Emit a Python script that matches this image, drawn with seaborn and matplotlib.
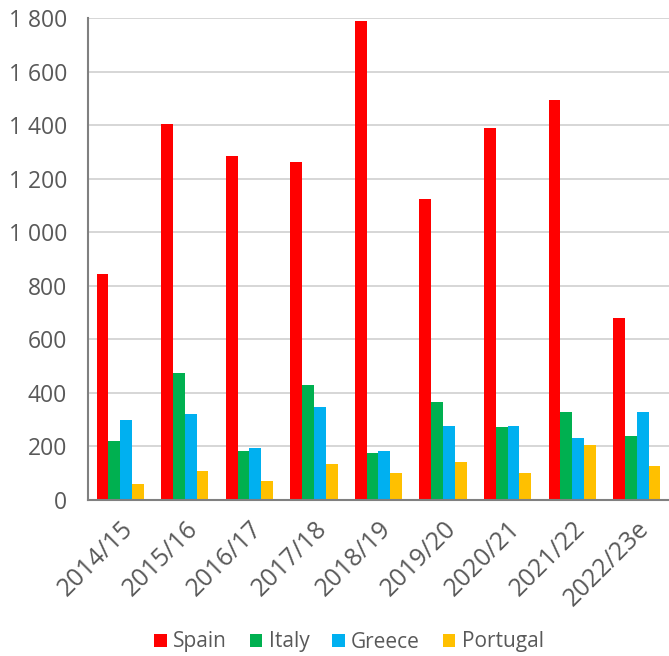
import numpy as np
import pandas as pd
import matplotlib
matplotlib.use("Agg")
import matplotlib.pyplot as plt
import matplotlib.transforms as mtransforms
import seaborn as sns
from matplotlib.ticker import FuncFormatter, FixedLocator

seasons = ["2014/15", "2015/16", "2016/17", "2017/18", "2018/19",
           "2019/20", "2020/21", "2021/22", "2022/23e"]
countries = ["Spain", "Italy", "Greece", "Portugal"]

spain = [844, 1404, 1285, 1262, 1789, 1124, 1389, 1494, 680]
italy = [220, 474, 183, 429, 175, 366, 273, 329, 239]
greece = [299, 321, 194, 347, 183, 276, 276, 231, 330]
portugal = [60, 108, 71, 134, 100, 141, 100, 205, 127]

colors = ["#FF0000", "#00B050", "#00B0F0", "#FFC000"]
text_grey = "#595959"

# long format for seaborn
df = pd.DataFrame({
    "season": seasons * 4,
    "country": np.repeat(countries, len(seasons)),
    "value": spain + italy + greece + portugal,
})

sns.set_style("white")
plt.rcParams["font.family"] = ["Open Sans", "DejaVu Sans"]
tick_fs = 16.5
xlab_fs = 18
leg_fs = 15

fig = plt.figure(figsize=(6.69, 6.56), dpi=100)
ax = fig.add_axes([88 / 669, 1 - 500 / 656, 581 / 669, 482 / 656])

sns.barplot(
    data=df, x="season", y="value", hue="country",
    order=seasons, hue_order=countries, palette=colors, saturation=1,
    width=0.73, gap=0, errorbar=None, linewidth=0, ax=ax,
)

ax.set_xlim(-0.5, len(seasons) - 0.5)
ax.set_ylim(0, 1800)
ax.set_yticks(np.arange(0, 1801, 200))
ax.yaxis.set_major_formatter(FuncFormatter(lambda v, p: f"{int(v):,}".replace(",", " ")))
ax.yaxis.grid(True, color="#D0D0D0", linewidth=1.2)
ax.set_axisbelow(True)

# category boundaries get the tick marks
ax.xaxis.set_minor_locator(FixedLocator(np.arange(-0.5, len(seasons), 1.0)))
ax.tick_params(axis="x", which="major", length=0, pad=18)
ax.tick_params(axis="x", which="minor", length=5, width=1.5, color="#808080", direction="out")
ax.tick_params(axis="y", length=5, width=1.5, color="#808080", direction="out", pad=10)
ax.tick_params(axis="y", labelsize=tick_fs, labelcolor=text_grey)
ax.tick_params(axis="x", labelsize=xlab_fs, labelcolor=text_grey)

shift = mtransforms.ScaledTranslation(9 / 100, 0, fig.dpi_scale_trans)
for lab in ax.get_xticklabels():
    lab.set_rotation(45)
    lab.set_ha("right")
    lab.set_va("center")
    lab.set_rotation_mode("anchor")
    lab.set_transform(lab.get_transform() + shift)

for s in ["top", "right"]:
    ax.spines[s].set_visible(False)
for s in ["left", "bottom"]:
    ax.spines[s].set_color("#808080")
    ax.spines[s].set_linewidth(1.5)

ax.set_xlabel("")
ax.set_ylabel("")

handles, labels = ax.get_legend_handles_labels()
ax.get_legend().remove()
leg = fig.legend(handles, labels, loc="center", bbox_to_anchor=(349 / 669, 1 - 642 / 656),
                 ncol=4, frameon=False, fontsize=leg_fs, handlelength=0.6, handleheight=0.6,
                 handletextpad=0.3, columnspacing=1.1, borderpad=0)
for t in leg.get_texts():
    t.set_color(text_grey)

fig.savefig("out.png", dpi=100)
